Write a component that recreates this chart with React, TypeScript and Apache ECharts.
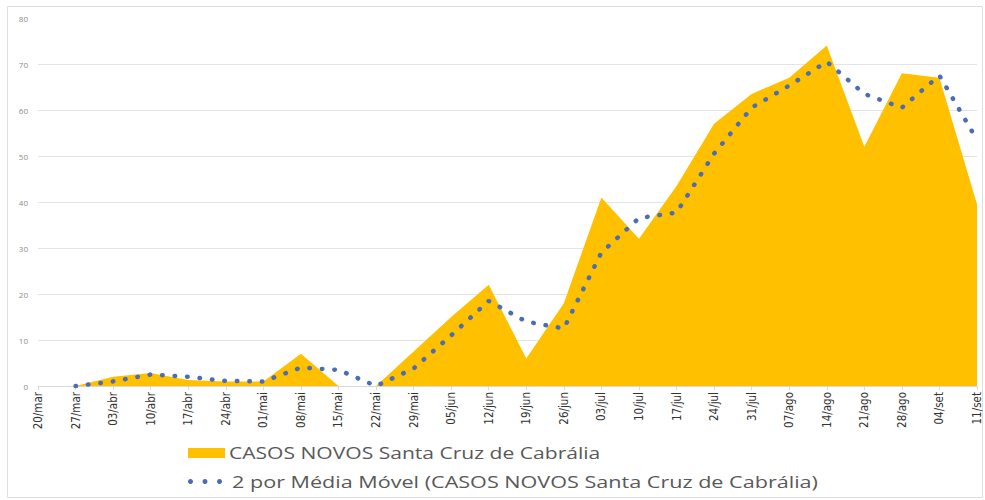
import React, { useEffect, useRef } from "react";
import * as echarts from "echarts";

const categories = [
  "20/mar", "27/mar", "03/abr", "10/abr", "17/abr", "24/abr", "01/mai", "08/mai",
  "15/mai", "22/mai", "29/mai", "05/jun", "12/jun", "19/jun", "26/jun", "03/jul",
  "10/jul", "17/jul", "24/jul", "31/jul", "07/ago", "14/ago", "21/ago", "28/ago",
  "04/set", "11/set",
];

const casosNovos = [
  0, 0, 2, 2.8, 1.3, 1, 1, 7,
  0, 0, 7.5, 15, 22, 6, 18, 41,
  32, 43.5, 57, 63.5, 67, 74, 52, 68,
  67, 39.5,
];

const mediaMovel = [
  null, 0, 1, 2.5, 2, 1.1, 1, 4,
  3.5, 0, 3.8, 11, 18.5, 14, 12.5, 29,
  36.5, 37.7, 50.5, 60.5, 65.3, 70.5, 63.5, 60.5,
  67.5, 53.5,
];

const yTicks = { min: 0, max: 80, interval: 10 };

const SERIES_AREA = "CASOS NOVOS Santa Cruz de Cabrália";
const SERIES_MA = "2 por Média Móvel (CASOS NOVOS Santa Cruz de Cabrália)";

const AREA_COLOR = "#FFC000";
const MA_COLOR = "#4A6DB5";
const LEGEND_TEXT = "#595959";

export default function App() {
  const ref = useRef<HTMLDivElement>(null);

  useEffect(() => {
    if (!ref.current) return;
    const chart = echarts.init(ref.current, undefined, { renderer: "svg" });
    const legendFont = {
      fontFamily: "'Open Sans', sans-serif",
      fontSize: 17,
      fill: LEGEND_TEXT,
      verticalAlign: "middle",
      align: "left",
    };
    chart.setOption({
      animation: false,
      backgroundColor: "#ffffff",
      grid: { left: 38, right: 8, top: 18, bottom: 114 },
      graphic: [
        {
          type: "rect",
          shape: { x: 7.5, y: 6.5, width: 975, height: 491 },
          style: { fill: "none", stroke: "#dedede", lineWidth: 1 },
          silent: true,
        },
        // legend row 1
        {
          type: "rect",
          shape: { x: 188, y: 448, width: 37, height: 10 },
          style: { fill: AREA_COLOR },
          silent: true,
        },
        {
          type: "text",
          x: 229,
          y: 453,
          scaleX: 1.24,
          style: { ...legendFont, text: SERIES_AREA },
          silent: true,
        },
        // legend row 2
        {
          type: "circle",
          shape: { cx: 190.5, cy: 481.5, r: 2.5 },
          style: { fill: MA_COLOR },
          silent: true,
        },
        {
          type: "circle",
          shape: { cx: 205, cy: 481.5, r: 2.5 },
          style: { fill: MA_COLOR },
          silent: true,
        },
        {
          type: "circle",
          shape: { cx: 219.5, cy: 481.5, r: 2.5 },
          style: { fill: MA_COLOR },
          silent: true,
        },
        {
          type: "text",
          x: 232,
          y: 481,
          scaleX: 1.27,
          style: { ...legendFont, text: SERIES_MA },
          silent: true,
        },
      ],
      xAxis: {
        type: "category",
        data: categories,
        boundaryGap: false,
        axisLine: { lineStyle: { color: "#d9d9d9", width: 1 } },
        axisTick: { show: true, length: 4, lineStyle: { color: "#d9d9d9" } },
        axisLabel: {
          interval: 0,
          rotate: 90,
          margin: 6,
          fontSize: 11.5,
          color: "#333333",
          fontFamily: "'Liberation Sans Narrow', 'DejaVu Sans Condensed', sans-serif",
        },
        splitLine: { show: false },
      },
      yAxis: {
        type: "value",
        min: yTicks.min,
        max: yTicks.max,
        interval: yTicks.interval,
        axisLine: { show: false },
        axisTick: { show: false },
        axisLabel: {
          fontSize: 8,
          color: "#8c8c8c",
          margin: 10,
          fontFamily: "'Open Sans', sans-serif",
        },
        splitLine: {
          show: true,
          showMaxLine: false,
          lineStyle: { color: "#e4e4e4", width: 1 },
        },
      },
      series: [
        {
          name: SERIES_AREA,
          type: "line",
          data: casosNovos,
          symbol: "none",
          lineStyle: { width: 0, color: AREA_COLOR },
          itemStyle: { color: AREA_COLOR },
          areaStyle: { color: AREA_COLOR, opacity: 1 },
          z: 2,
        },
        {
          name: SERIES_MA,
          type: "line",
          data: mediaMovel,
          symbol: "none",
          connectNulls: false,
          itemStyle: { color: MA_COLOR },
          lineStyle: {
            color: MA_COLOR,
            width: 4.5,
            type: [0.5, 12],
            cap: "round",
          },
          z: 3,
        },
      ],
    });
    return () => chart.dispose();
  }, []);

  return (
    <div
      ref={ref}
      style={{ position: "fixed", left: 0, top: 0, width: 985, height: 500 }}
    />
  );
}
